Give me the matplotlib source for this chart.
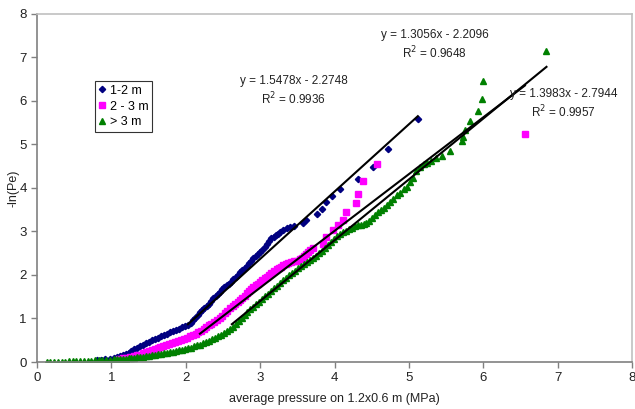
import matplotlib.pyplot as plt
import numpy as np

plt.rcParams['font.family'] = ['Liberation Sans', 'DejaVu Sans']

# 1-2 m  (pressure, -ln(Pe))
pts_12 = [(0.80, .04), (0.86, .05), (0.92, .06), (0.98, .08), (1.03, .09), (1.07, .11),
          (1.11, .13), (1.15, .15), (1.19, .18), (1.23, .21), (1.27, .25), (1.31, .29),
          (1.35, .32), (1.39, .36), (1.43, .39), (1.47, .43), (1.51, .47), (1.55, .50),
          (1.59, .53), (1.63, .56), (1.67, .59), (1.71, .62), (1.75, .65), (1.79, .69),
          (1.83, .72), (1.87, .74), (1.91, .77), (1.95, .80), (1.99, .82), (2.03, .85),
          (2.07, .90), (2.10, .96), (2.13, 1.02), (2.16, 1.08), (2.19, 1.14), (2.22, 1.20),
          (2.25, 1.24), (2.28, 1.29), (2.31, 1.34), (2.34, 1.40), (2.37, 1.47), (2.40, 1.52),
          (2.43, 1.56), (2.46, 1.61), (2.49, 1.67), (2.52, 1.72), (2.55, 1.76), (2.58, 1.80),
          (2.61, 1.85), (2.64, 1.90), (2.67, 1.95), (2.70, 2.01), (2.73, 2.07), (2.76, 2.12),
          (2.79, 2.16), (2.82, 2.21), (2.85, 2.27), (2.88, 2.33), (2.91, 2.38), (2.94, 2.43),
          (2.97, 2.48), (3.00, 2.53), (3.03, 2.58), (3.06, 2.64), (3.09, 2.71), (3.12, 2.78),
          (3.15, 2.85), (3.18, 2.88), (3.21, 2.91), (3.24, 2.95), (3.27, 2.98), (3.31, 3.03),
          (3.36, 3.07), (3.40, 3.10), (3.45, 3.12), (3.58, 3.20), (3.62, 3.27), (3.76, 3.41),
          (3.83, 3.52), (3.89, 3.67), (3.96, 3.81), (4.07, 3.98), (4.32, 4.21), (4.52, 4.48),
          (4.72, 4.90), (5.12, 5.59)]

# 2 - 3 m
pts_23 = [(1.10, .07), (1.15, .09), (1.20, .10), (1.25, .12), (1.30, .14), (1.34, .16),
          (1.38, .17), (1.42, .20), (1.46, .22), (1.50, .25), (1.54, .27), (1.58, .30),
          (1.62, .32), (1.66, .35), (1.70, .37), (1.74, .39), (1.78, .41), (1.82, .44),
          (1.86, .46), (1.90, .48), (1.94, .51), (1.98, .53), (2.02, .56), (2.06, .59),
          (2.10, .62), (2.14, .65), (2.17, .68), (2.20, .72), (2.24, .76), (2.27, .80),
          (2.31, .84), (2.34, .88), (2.38, .92), (2.42, .96), (2.46, 1.00), (2.49, 1.06),
          (2.53, 1.12), (2.56, 1.18), (2.60, 1.24), (2.63, 1.29), (2.66, 1.33), (2.70, 1.38),
          (2.73, 1.42), (2.76, 1.47), (2.79, 1.52), (2.82, 1.58), (2.85, 1.63), (2.88, 1.68),
          (2.91, 1.73), (2.94, 1.77), (2.97, 1.80), (3.00, 1.84), (3.03, 1.88), (3.06, 1.92),
          (3.09, 1.96), (3.12, 2.01), (3.15, 2.05), (3.18, 2.09), (3.22, 2.13), (3.25, 2.16),
          (3.28, 2.18), (3.31, 2.22), (3.35, 2.25), (3.38, 2.28), (3.42, 2.30), (3.46, 2.32),
          (3.49, 2.33), (3.53, 2.36), (3.56, 2.38), (3.59, 2.43), (3.62, 2.48), (3.65, 2.53),
          (3.67, 2.57), (3.71, 2.61), (3.85, 2.72), (3.89, 2.87), (3.98, 3.03), (4.05, 3.14),
          (4.12, 3.26), (4.16, 3.45), (4.29, 3.65), (4.31, 3.87), (4.38, 4.15), (4.57, 4.56),
          (6.56, 5.23)]

# > 3 m
pts_3 = [(0.13, .00), (0.18, .01), (0.23, .01), (0.28, .01), (0.33, .01), (0.38, .01),
         (0.43, .02), (0.48, .02), (0.53, .02), (0.58, .02), (0.63, .03), (0.68, .03),
         (0.73, .03), (0.78, .04), (0.83, .04), (0.88, .04), (0.93, .05), (0.98, .05),
         (1.03, .06), (1.07, .06), (1.11, .07), (1.15, .07), (1.19, .08), (1.23, .09),
         (1.27, .09), (1.31, .10), (1.35, .11), (1.39, .11), (1.43, .12), (1.47, .13),
         (1.51, .14), (1.55, .15), (1.59, .16), (1.63, .18), (1.67, .19), (1.71, .20),
         (1.75, .21), (1.79, .22), (1.83, .24), (1.87, .25), (1.91, .27), (1.95, .28),
         (1.99, .30), (2.03, .32), (2.07, .33), (2.11, .36), (2.15, .38), (2.19, .40),
         (2.23, .43), (2.27, .46), (2.31, .49), (2.35, .52), (2.39, .55), (2.43, .59),
         (2.47, .63), (2.51, .67), (2.55, .71), (2.59, .76), (2.63, .81), (2.67, .87),
         (2.71, .94), (2.75, 1.02), (2.79, 1.08), (2.83, 1.15), (2.87, 1.21), (2.91, 1.27),
         (2.95, 1.33), (2.99, 1.39), (3.03, 1.45), (3.07, 1.51), (3.11, 1.57), (3.15, 1.63),
         (3.19, 1.69), (3.23, 1.75), (3.27, 1.81), (3.31, 1.88), (3.35, 1.93), (3.39, 1.99),
         (3.43, 2.05), (3.47, 2.10), (3.51, 2.15), (3.55, 2.21), (3.59, 2.26), (3.63, 2.31),
         (3.67, 2.35), (3.71, 2.39), (3.75, 2.44), (3.79, 2.50), (3.83, 2.56), (3.87, 2.62),
         (3.91, 2.69), (3.95, 2.76), (3.99, 2.82), (4.03, 2.89), (4.07, 2.95), (4.11, 2.98),
         (4.15, 3.02), (4.19, 3.06), (4.23, 3.09), (4.27, 3.12), (4.31, 3.14), (4.35, 3.16),
         (4.39, 3.17), (4.43, 3.19), (4.47, 3.25), (4.51, 3.31), (4.55, 3.38), (4.59, 3.44),
         (4.63, 3.49), (4.67, 3.55), (4.71, 3.61), (4.75, 3.67), (4.79, 3.75), (4.84, 3.84),
         (4.88, 3.89), (4.93, 3.97), (4.97, 4.03), (5.02, 4.13), (5.06, 4.24), (5.10, 4.38),
         (5.15, 4.48), (5.20, 4.55), (5.24, 4.58), (5.30, 4.63), (5.37, 4.68), (5.45, 4.74),
         (5.55, 4.86), (5.71, 5.07), (5.73, 5.17), (5.75, 5.34), (5.82, 5.53), (5.93, 5.77),
         (5.98, 6.05), (6.00, 6.45), (6.85, 7.14)]

x_12, y_12 = zip(*pts_12)
x_23, y_23 = zip(*pts_23)
x_3, y_3 = zip(*pts_3)

# trendlines: slope, intercept, x range
fit_12 = (1.5478, -2.2748, 2.03, 5.12)
fit_23 = (1.3056, -2.2096, 2.19, 6.56)
fit_3 = (1.3983, -2.7944, 2.62, 6.85)

fig = plt.figure(figsize=(6.35, 4.09), dpi=100)
ax = fig.add_axes([0.0583, 0.1149, 0.937, 0.851])

for s, b, x0, x1 in [fit_12, fit_23, fit_3]:
    xs = np.array([x0, x1])
    ax.plot(xs, s * xs + b, color='black', lw=1.5, zorder=3)

ax.plot(x_12, y_12, 'D', color='#000080', ms=3.2, mec='#000080', ls='none', label='1-2 m', zorder=2)
ax.plot(x_23, y_23, 's', color='#FF00FF', ms=4.5, mec='#FF00FF', ls='none', label='2 - 3 m', zorder=2)
ax.plot(x_3, y_3, '^', color='#008000', ms=4.5, mec='#008000', ls='none', label='> 3 m', zorder=2)

ax.set_xlim(0, 8)
ax.set_ylim(0, 8)
ax.set_xticks(range(0, 9))
ax.set_yticks(range(0, 9))
ax.tick_params(direction='out', length=4, width=1, color='#808080', labelsize=9.5, labelcolor='#222222')
ax.spines['left'].set_color('#808080')
ax.spines['bottom'].set_color('#808080')
ax.spines['top'].set_color('#c0c0c0')
ax.spines['right'].set_color('#c0c0c0')
for sp in ax.spines.values():
    sp.set_linewidth(1.2)

ax.set_xlabel('average pressure on 1.2x0.6 m (MPa)', fontsize=9, color='#222222', labelpad=6)
ax.set_ylabel('-ln(Pe)', fontsize=9, color='#222222')
ax.yaxis.set_label_coords(-0.03, 0.5)

ax.text(3.45, 6.22, 'y = 1.5478x - 2.2748\nR$^2$ = 0.9936', ha='center', va='center',
        fontsize=8.5, linespacing=1.25, color='#222222')
ax.text(5.35, 7.29, 'y = 1.3056x - 2.2096\nR$^2$ = 0.9648', ha='center', va='center',
        fontsize=8.5, linespacing=1.25, color='#222222')
ax.text(7.08, 5.92, 'y = 1.3983x - 2.7944\nR$^2$ = 0.9957', ha='center', va='center',
        fontsize=8.5, linespacing=1.25, color='#222222')

leg = ax.legend(loc='upper left', bbox_to_anchor=(0.097, 0.807), fontsize=9, frameon=True,
                fancybox=False, edgecolor='black', handlelength=0.6, handletextpad=0.3,
                borderpad=0.3, labelspacing=0.3, borderaxespad=0)
leg.get_frame().set_linewidth(0.8)

fig.savefig('out.png', dpi=100)
